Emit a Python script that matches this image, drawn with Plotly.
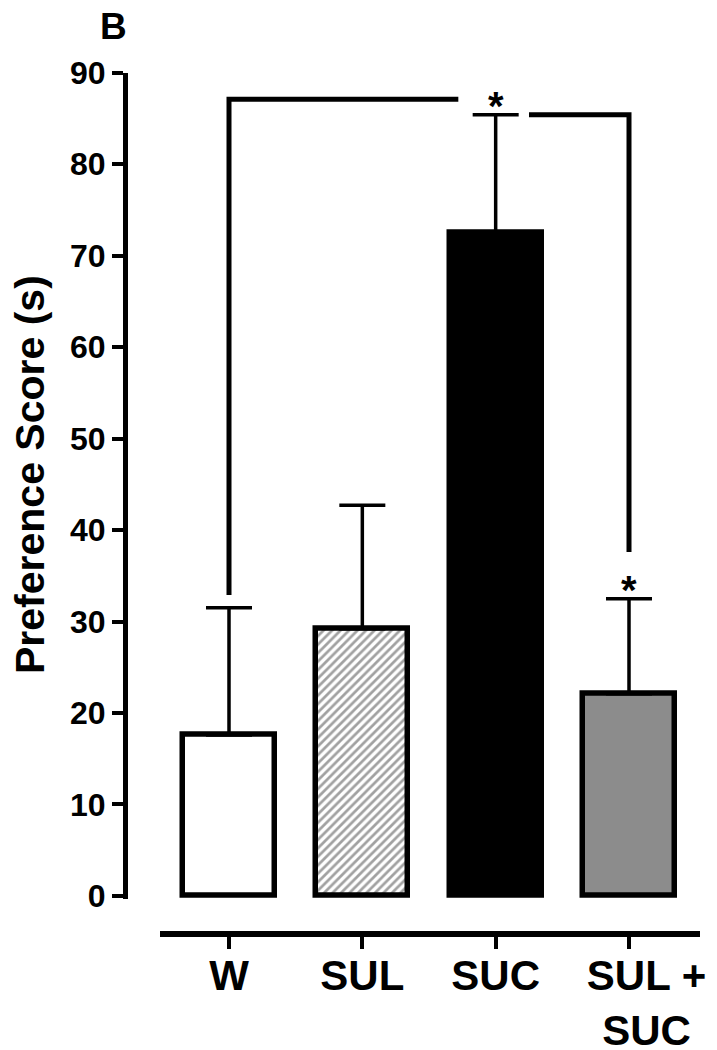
import plotly.graph_objects as go

# ---- data ----
NB = "\u00a0\u00a0\u00a0"
categories = ["W", "SUL", "SUC", NB + "SUL +<br>" + NB + "SUC"]
cat_pos = [0, 1, 2, 3]
means = [17.6, 29.2, 72.5, 22.1]
upper = [31.5, 42.7, 85.4, 32.5]
sem = [u - m for u, m in zip(upper, means)]
bar_colors = ["white", "white", "black", "#8c8c8c"]
bar_patterns = ["", "/", "", ""]
y_ticks = [0, 10, 20, 30, 40, 50, 60, 70, 80, 90]

# significance brackets (category units, data values)
sig1_x = [0, 0, 1.72]
sig1_y = [32.9, 87.1, 87.1]
sig2_x = [2.25, 3, 3]
sig2_y = [85.4, 85.4, 37.6]
star_x = [2, 3]
star_y = [87.2, 34.3]

# page has an 8px body margin; size the figure to fit the window
OFF = 8
W, H = 717 - OFF, 1050 - OFF
FONT = "Liberation Sans, Arial, Helvetica, sans-serif"

def px_x(p):
    return (p - OFF) / W

def px_y(p):
    return 1 - (p - OFF) / H

fig = go.Figure()

fig.add_trace(go.Bar(
    x=cat_pos, y=means, width=0.69,
    marker=dict(
        color=bar_colors,
        line=dict(color="black", width=5.5),
        pattern=dict(shape=bar_patterns, fgcolor="black", bgcolor="white",
                     size=6, solidity=0.45),
    ),
    error_y=dict(type="data", symmetric=False, array=sem,
                 arrayminus=[0, 0, 0, 0], color="black",
                 thickness=3.5, width=23),
    showlegend=False,
))

for bx, by in [(sig1_x, sig1_y), (sig2_x, sig2_y)]:
    fig.add_trace(go.Scatter(x=bx, y=by, mode="lines",
                             line=dict(color="black", width=5),
                             showlegend=False, hoverinfo="skip"))

for sx, sy in zip(star_x, star_y):
    fig.add_annotation(x=sx, y=sy, xref="x", yref="y", text="*",
                       showarrow=False, yanchor="middle", yshift=-8,
                       font=dict(family=FONT, size=40, color="black", weight="bold"))

fig.add_annotation(x=px_x(113), y=px_y(27), xref="paper", yref="paper",
                   text="B", showarrow=False, xanchor="center", yanchor="middle",
                   font=dict(family=FONT, size=37, color="black", weight="bold"))

fig.add_annotation(x=px_x(30), y=px_y(475), xref="paper", yref="paper",
                   text="Preference Score (s)", showarrow=False, textangle=-90,
                   xanchor="center", yanchor="middle",
                   font=dict(family=FONT, size=41, color="black", weight="bold"))

fig.update_layout(
    width=W, height=H,
    margin=dict(l=0, r=0, t=0, b=0, autoexpand=False),
    paper_bgcolor="white", plot_bgcolor="white",
    bargap=0,
    xaxis=dict(
        domain=[px_x(160), px_x(700)],
        range=[-0.5175, 3.5325],
        anchor="free", position=px_y(934),
        automargin=False,
        tickmode="array", tickvals=cat_pos, ticktext=categories,
        showline=True, linecolor="black", linewidth=6,
        ticks="outside", ticklen=12, tickwidth=4, tickcolor="black",
        ticklabelstandoff=-9,
        showgrid=False, zeroline=False,
        tickfont=dict(family=FONT, size=42, color="black", weight="bold"),
    ),
    yaxis=dict(
        domain=[px_y(898.7), px_y(72.7)],
        range=[-0.3, 90],
        anchor="free", position=px_x(125),
        automargin=False,
        tickmode="array", tickvals=y_ticks,
        showline=True, linecolor="black", linewidth=5,
        ticks="outside", ticklen=11, tickwidth=4, tickcolor="black",
        showgrid=False, zeroline=False,
        tickfont=dict(family=FONT, size=32, color="black", weight="bold"),
    ),
)

fig.write_html("out.html")
